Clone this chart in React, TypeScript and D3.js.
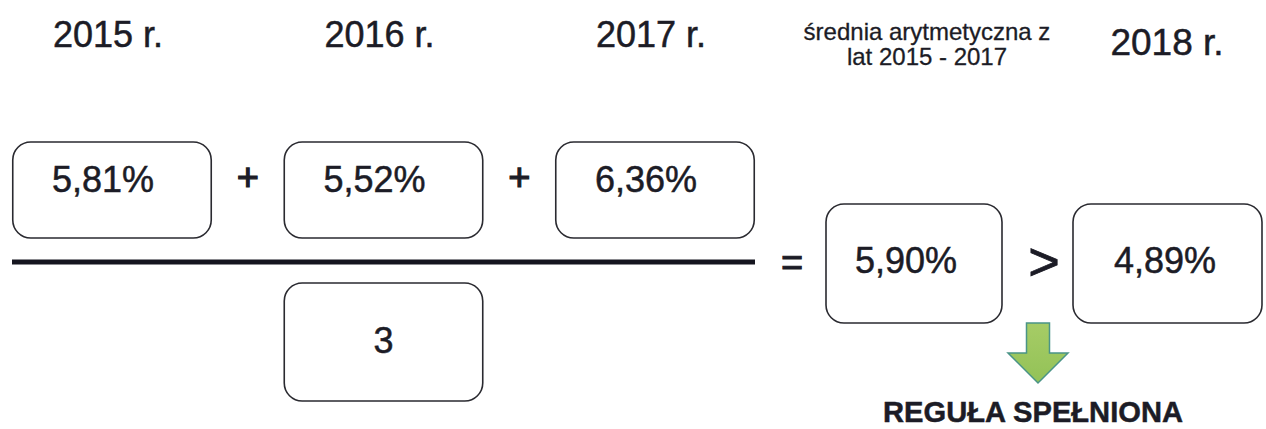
import React from "react";
import * as d3 from "d3";

const years = ["2015 r.", "2016 r.", "2017 r."];
const values = [5.81, 5.52, 6.36];
const divisor = 3;
const averageLabel = ["średnia arytmetyczna z", "lat 2015 - 2017"];
const averageValue = 5.9;
const yearNext = "2018 r.";
const valueNext = 4.89;
const resultText = "REGUŁA SPEŁNIONA";

const W = 1266;
const H = 429;
const FONT = "'Liberation Sans', Arial, Helvetica, sans-serif";
const INK = "#1c1c26";
const BOX = "#2a2a30";

const pl = d3.formatLocale({ decimal: ",", thousands: " ", grouping: [3], currency: ["", " zł"] });
const fmt = (v: number) => pl.format(".2f")(v) + "%";

export default function App() {
  const x = d3.scaleBand<string>().domain(years).range([12, 755]).paddingInner(0.2634).paddingOuter(0);
  const bw = x.bandwidth();
  const boxTop = 142;
  const boxH = 96;
  const lineY = 262;

  const avgX = 826, avgW = 176, rowTop = 204, rowH = 119;
  const nextX = 1073, nextW = 189;
  const divBand = years[1];

  const ax = 1038, aTop = 323, aHeadY = 353, aTip = 383, shaftHalf = 11.5, headHalf = 30;
  const arrow = d3.path();
  arrow.moveTo(ax - shaftHalf, aTop);
  arrow.lineTo(ax + shaftHalf, aTop);
  arrow.lineTo(ax + shaftHalf, aHeadY);
  arrow.lineTo(ax + headHalf, aHeadY);
  arrow.lineTo(ax, aTip);
  arrow.lineTo(ax - headHalf, aHeadY);
  arrow.lineTo(ax - shaftHalf, aHeadY);
  arrow.closePath();

  const tstyle = { fill: INK, stroke: INK, strokeWidth: 0.5 } as const;

  return (
    <svg width={W} height={H} style={{ position: "absolute", left: 0, top: 0, background: "#fff" }} fontFamily={FONT}>
      <defs>
        <linearGradient id="arrowFill" x1="0" y1="0" x2="0" y2="1">
          <stop offset="0" stopColor="#a6cc66" />
          <stop offset="1" stopColor="#93c257" />
        </linearGradient>
      </defs>
      <rect x={0} y={0} width={W} height={H} fill="#fff" />
      {years.map((y, i) => {
        const x0 = x(y)!;
        const cx = x0 + bw / 2;
        return (
          <g key={y}>
            <text x={cx - 4} y={47} fontSize={36} {...tstyle} textAnchor="middle">{y}</text>
            <rect x={x0 + 0.75} y={boxTop} width={bw - 1.5} height={boxH} rx={18} ry={18} fill="none" stroke={BOX} strokeWidth={1.6} />
            <text x={cx - 9} y={192} fontSize={36} {...tstyle} textAnchor="middle">{fmt(values[i])}</text>
            {i < years.length - 1 && (
              <text x={(x0 + bw + x(years[i + 1])!) / 2} y={190} fontSize={38} fill={INK} stroke={INK} strokeWidth={1.2} textAnchor="middle">+</text>
            )}
          </g>
        );
      })}
      <line x1={x(years[0])!} x2={x(years[2])! + bw} y1={lineY} y2={lineY} stroke="#15151f" strokeWidth={5} />
      <rect x={x(divBand)! + 0.75} y={283} width={bw - 1.5} height={118} rx={18} ry={18} fill="none" stroke={BOX} strokeWidth={1.6} />
      <text x={x(divBand)! + bw / 2} y={353} fontSize={36} {...tstyle} textAnchor="middle">{divisor}</text>

      <text x={792} y={276} fontSize={38} fill={INK} stroke={INK} strokeWidth={1} textAnchor="middle">=</text>

      <text x={927} y={40} fontSize={24} {...tstyle} strokeWidth={0.3} textAnchor="middle">{averageLabel[0]}</text>
      <text x={927} y={65} fontSize={24} {...tstyle} strokeWidth={0.3} textAnchor="middle">{averageLabel[1]}</text>
      <rect x={avgX} y={rowTop} width={avgW} height={rowH} rx={18} ry={18} fill="none" stroke={BOX} strokeWidth={1.6} />
      <text x={avgX + avgW / 2 - 8} y={273} fontSize={36} {...tstyle} textAnchor="middle">{fmt(averageValue)}</text>

      <text x={1044} y={280} fontSize={54} fill={INK} stroke={INK} strokeWidth={0.8} textAnchor="middle">{">"}</text>

      <text x={1167} y={55} fontSize={37} {...tstyle} textAnchor="middle">{yearNext}</text>
      <rect x={nextX} y={rowTop} width={nextW} height={rowH} rx={18} ry={18} fill="none" stroke={BOX} strokeWidth={1.6} />
      <text x={1165} y={273} fontSize={36} {...tstyle} textAnchor="middle">{fmt(valueNext)}</text>

      <path d={arrow.toString()} fill="url(#arrowFill)" stroke="#4a9487" strokeWidth={1.5} strokeLinejoin="miter" />
      <text x={1033} y={422} fontSize={30} fontWeight="bold" {...tstyle} textAnchor="middle" textLength={300} lengthAdjust="spacingAndGlyphs">{resultText}</text>
    </svg>
  );
}
